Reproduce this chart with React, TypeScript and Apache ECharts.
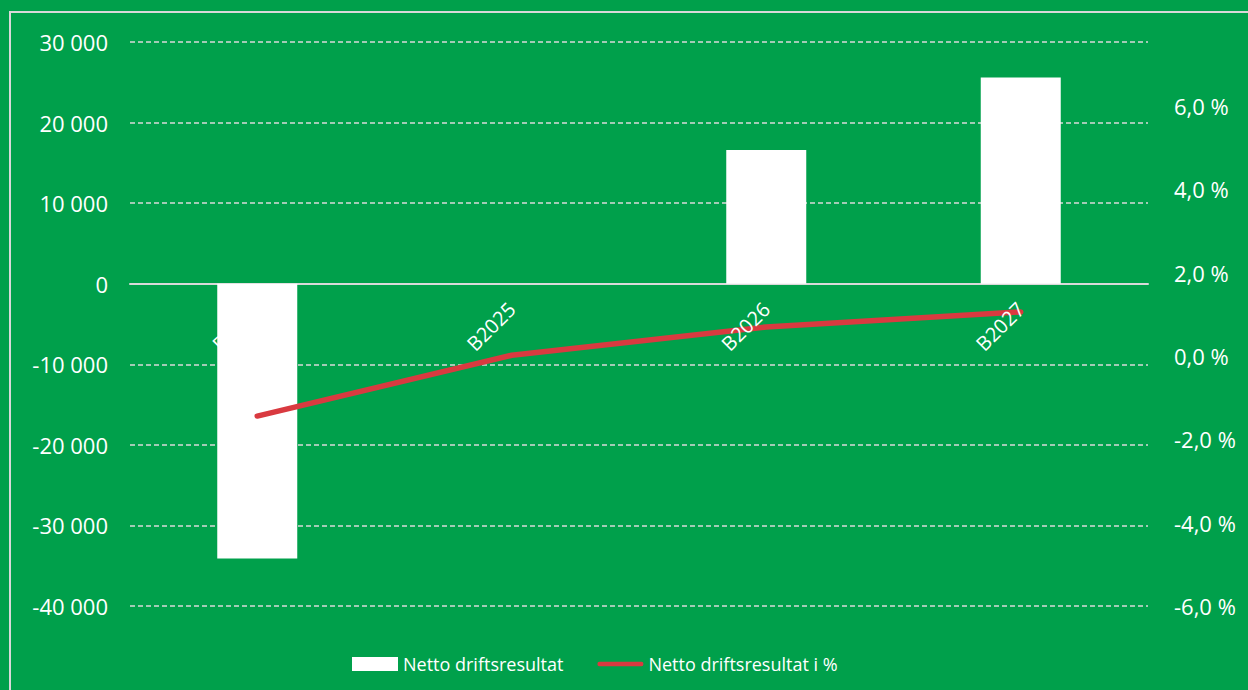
import React, { useEffect, useRef } from "react";
import * as echarts from "echarts";

const categories = ["B2024", "B2025", "B2026", "B2027"];
const nettoDriftsresultat = [-34100, null, 16600, 25600];
const nettoDriftsresultatPct = [-1.44, 0.02, 0.7, 1.06];
const leftTicks = { min: -40000, max: 30000, interval: 10000 };
const rightTicks = { min: -6, max: 7.54, interval: 2 };

const FONT = "'Open Sans', 'Noto Sans', sans-serif";
const BG = "#00A04B";
const GRID_TOP = 42;
const GRID_BOTTOM = 84;
const PLOT_H = 690 - GRID_TOP - GRID_BOTTOM;

function fmtThousands(v: number) {
  const s = Math.abs(v).toString().replace(/\B(?=(\d{3})+(?!\d))/g, " ");
  return (v < 0 ? "-" : "") + s;
}

export default function App() {
  const ref = useRef<HTMLDivElement>(null);
  useEffect(() => {
    if (!ref.current) return;
    const chart = echarts.init(ref.current, undefined, { renderer: "svg" });
    // distance from bottom edge of plot to the zero line of the left axis
    const zeroOffset = ((0 - leftTicks.min) / (leftTicks.max - leftTicks.min)) * PLOT_H;
    chart.setOption({
      animation: false,
      backgroundColor: BG,
      textStyle: { fontFamily: FONT },
      graphic: [
        {
          type: "rect",
          shape: { x: 10, y: 12, width: 1260, height: 700 },
          style: { fill: "none", stroke: "#d9d9d9", lineWidth: 2 },
          silent: true,
        },
      ],
      grid: { left: 130, right: 100, top: GRID_TOP, bottom: GRID_BOTTOM, containLabel: false },
      legend: {
        left: 347,
        top: 650,
        itemWidth: 46,
        itemHeight: 14,
        itemGap: 34,
        textStyle: { color: "#ffffff", fontSize: 18, fontFamily: FONT },
        data: [
          { name: "Netto driftsresultat", icon: "rect" },
          { name: "Netto driftsresultat i %", icon: "path://M2,0 L48,0 Q50,0 50,2.5 Q50,5 48,5 L2,5 Q0,5 0,2.5 Q0,0 2,0 Z" },
        ],
      },
      xAxis: [
        {
          type: "category",
          data: categories,
          axisLine: { onZero: true, onZeroAxisIndex: 0, lineStyle: { color: "#d9d9d9", width: 2 } },
          axisTick: { show: false },
          axisLabel: { show: false },
        },
        {
          type: "category",
          data: categories,
          position: "bottom",
          offset: -zeroOffset,
          z: 10,
          axisLine: { show: false, onZero: false },
          axisTick: { show: false },
          axisLabel: { color: "#ffffff", fontSize: 20, rotate: 45, margin: 22, fontFamily: FONT },
        },
      ],
      yAxis: [
        {
          type: "value",
          min: leftTicks.min,
          max: leftTicks.max,
          interval: leftTicks.interval,
          axisLine: { show: false },
          axisTick: { show: false },
          splitLine: { lineStyle: { color: "#d9d9d9", type: [5, 3], width: 1.5 } },
          axisLabel: {
            color: "#ffffff",
            fontSize: 22,
            margin: 22,
            fontFamily: FONT,
            formatter: (v: number) => fmtThousands(v),
          },
        },
        {
          type: "value",
          min: rightTicks.min,
          max: rightTicks.max,
          interval: rightTicks.interval,
          axisLine: { show: false },
          axisTick: { show: false },
          splitLine: { show: false },
          axisLabel: {
            color: "#ffffff",
            fontSize: 22,
            margin: 26,
            fontFamily: FONT,
            showMaxLabel: false,
            formatter: (v: number) => v.toFixed(1).replace(".", ",") + " %",
          },
        },
      ],
      series: [
        {
          name: "Netto driftsresultat",
          type: "bar",
          data: nettoDriftsresultat,
          barWidth: 80,
          itemStyle: { color: "#ffffff" },
          xAxisIndex: 0,
          yAxisIndex: 0,
        },
        {
          name: "Netto driftsresultat i %",
          type: "line",
          data: nettoDriftsresultatPct,
          xAxisIndex: 0,
          yAxisIndex: 1,
          symbol: "none",
          lineStyle: { color: "#D93A40", width: 5.5, cap: "round" },
          itemStyle: { color: "#D93A40" },
        },
      ],
    });
    return () => chart.dispose();
  }, []);
  return (
    <div
      ref={ref}
      style={{ position: "fixed", left: 0, top: 0, width: 1248, height: 690 }}
    />
  );
}
